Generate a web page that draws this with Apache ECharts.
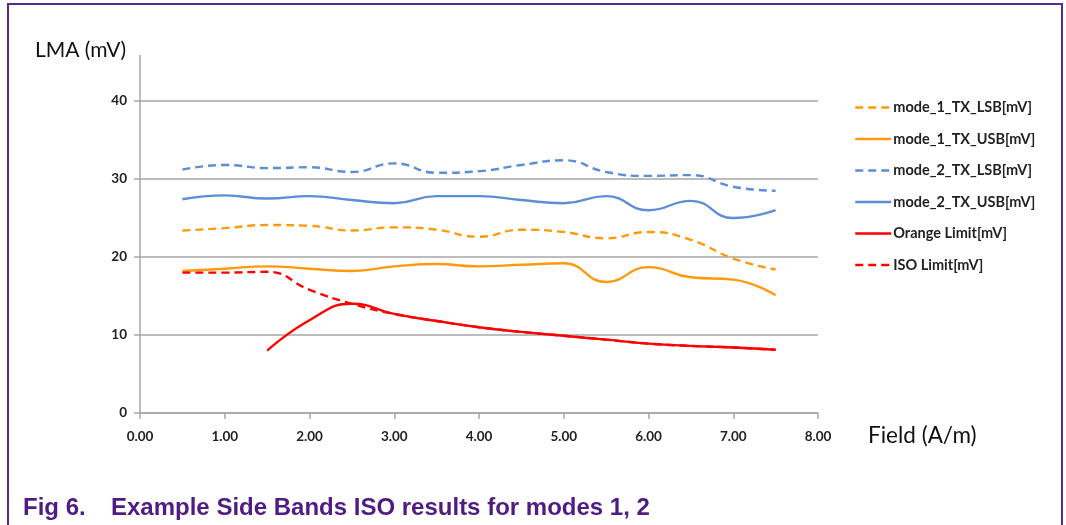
<!DOCTYPE html>
<html>
<head>
<meta charset="utf-8">
<script src="https://cdn.jsdelivr.net/npm/echarts@6/dist/echarts.min.js"></script>
<style>
html,body{margin:0;padding:0;background:#fff;}
#c{width:1066px;height:525px;}
</style>
</head>
<body>
<div id="c"></div>
<script>
// Field values (A/m)
const fieldX = [0.5, 1.0, 1.5, 2.0, 2.5, 3.0, 3.5, 4.0, 4.5, 5.0, 5.5, 6.0, 6.5, 7.0, 7.5];
const mode1LSB = [23.4, 23.7, 24.1, 24.0, 23.4, 23.8, 23.5, 22.6, 23.5, 23.2, 22.4, 23.2, 22.2, 19.8, 18.4];
const mode1USB = [18.2, 18.5, 18.8, 18.5, 18.2, 18.8, 19.1, 18.8, 19.0, 19.2, 16.8, 18.7, 17.4, 17.1, 15.1];
const mode2LSB = [31.2, 31.8, 31.4, 31.5, 30.9, 32.0, 30.8, 31.0, 31.8, 32.4, 30.9, 30.4, 30.5, 29.0, 28.5];
const mode2USB = [27.4, 27.9, 27.5, 27.8, 27.3, 26.9, 27.8, 27.8, 27.3, 26.9, 27.8, 26.0, 27.2, 25.0, 26.0];
const orangeLimitX = [1.5, 2.0, 2.5, 3.0, 3.5, 4.0, 4.5, 5.0, 5.5, 6.0, 6.5, 7.0, 7.5];
const orangeLimit = [8.0, 11.9, 14.0, 12.7, 11.8, 11.0, 10.4, 9.9, 9.4, 8.9, 8.6, 8.4, 8.1];
const isoLimit = [18.0, 18.0, 18.1, 15.8, 14.0, 12.7, 11.8, 11.0, 10.4, 9.9, 9.4, 8.9, 8.6, 8.4, 8.1];
const seriesNames = ['mode_1_TX_LSB[mV]', 'mode_1_TX_USB[mV]', 'mode_2_TX_LSB[mV]', 'mode_2_TX_USB[mV]', 'Orange Limit[mV]', 'ISO Limit[mV]'];
const xTicks = [0, 1, 2, 3, 4, 5, 6, 7, 8];
const yTicks = [0, 10, 20, 30, 40];

const pairs = (xs, ys) => xs.map((x, i) => [x, ys[i]]);
const ORANGE = '#FF9A0F', BLUE = '#5B8ED6', RED = '#FF0000';
const DASH = [8, 5];
const PURPLE = '#4E1C82';

function mk(name, data, color, dashed) {
  return {
    name, type: 'line', data, smooth: 0.5, symbol: 'none', showSymbol: false,
    lineStyle: { color, width: 2.4, type: dashed ? DASH : 'solid' },
    itemStyle: { color },
    emphasis: { disabled: true }, animation: false
  };
}

const chart = echarts.init(document.getElementById('c'), null, { renderer: 'canvas' });
chart.setOption({
  backgroundColor: '#fff',
  animation: false,
  grid: { left: 140, right: 1066 - 818, top: 101, bottom: 525 - 413, containLabel: false },
  legend: {
    orient: 'vertical', left: 854, top: 100, padding: 0,
    itemWidth: 36, itemHeight: 14, itemGap: 16.5,
    data: seriesNames,
    itemStyle: { opacity: 0 },
    lineStyle: { width: 2.5 },
    textStyle: { fontFamily: 'Lato', fontWeight: 'bold', fontSize: 14.5, color: '#222', padding: [0,0,0,-3] },
    selectedMode: false
  },
  xAxis: {
    type: 'value', min: xTicks[0], max: xTicks[xTicks.length - 1], interval: 1,
    axisLine: { show: true, lineStyle: { color: '#a6a6a6', width: 1.5 } },
    axisTick: { show: true, inside: false, length: 6, lineStyle: { color: '#a6a6a6', width: 1.5 } },
    splitLine: { show: false },
    axisLabel: { formatter: v => v.toFixed(2), fontFamily: 'Lato', fontWeight: 'bold', fontSize: 13.5, color: '#222', margin: 17 }
  },
  yAxis: {
    type: 'value', min: yTicks[0], max: yTicks[yTicks.length - 1], interval: 10,
    axisLine: { show: true, lineStyle: { color: '#a6a6a6', width: 1.5 } },
    axisTick: { show: true, inside: false, length: 6, lineStyle: { color: '#a6a6a6', width: 1.5 } },
    splitLine: { show: true, lineStyle: { color: '#a6a6a6', width: 1.5 } },
    axisLabel: { fontFamily: 'Lato', fontWeight: 'bold', fontSize: 13.5, color: '#222', margin: 13 }
  },
  graphic: [
    { type: 'rect', shape: { x: 8, y: 4, width: 1054, height: 540 }, style: { fill: 'none', stroke: '#5B2A8C', lineWidth: 2 }, silent: true },
    { type: 'line', shape: { x1: 140, y1: 55, x2: 140, y2: 101 }, style: { stroke: '#a6a6a6', lineWidth: 1.5 }, silent: true },
    { type: 'text', left: 35, top: 40, style: { text: 'LMA (mV)', font: '21px Lato', fill: '#111' } },
    { type: 'text', left: 868, top: 424, style: { text: 'Field (A/m)', font: '22.5px Lato', fill: '#111' } },
    { type: 'text', left: 23, top: 496, style: { text: 'Fig 6.', font: 'bold 24px "Liberation Sans"', fill: PURPLE } },
    { type: 'text', left: 111, top: 496, style: { text: 'Example Side Bands ISO results for modes 1, 2', font: 'bold 24px "Liberation Sans"', fill: PURPLE } }
  ],
  series: [
    mk(seriesNames[0], pairs(fieldX, mode1LSB), ORANGE, true),
    mk(seriesNames[1], pairs(fieldX, mode1USB), ORANGE, false),
    mk(seriesNames[2], pairs(fieldX, mode2LSB), BLUE, true),
    mk(seriesNames[3], pairs(fieldX, mode2USB), BLUE, false),
    mk(seriesNames[4], pairs(orangeLimitX, orangeLimit), RED, false),
    mk(seriesNames[5], pairs(fieldX, isoLimit), RED, true)
  ]
});
</script>
</body>
</html>
